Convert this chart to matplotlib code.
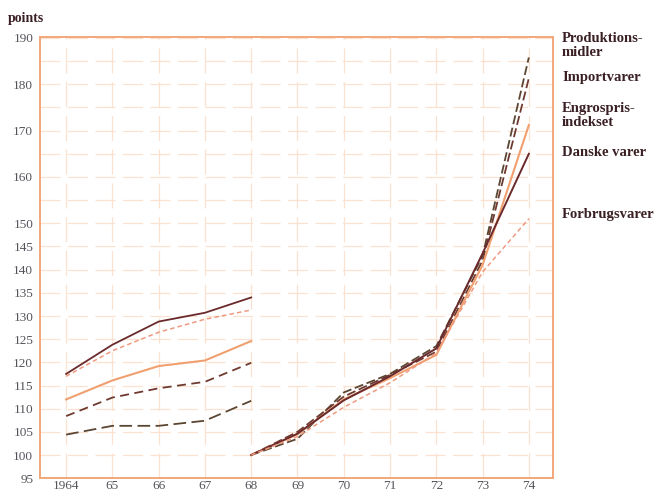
import matplotlib.pyplot as plt
import numpy as np

# 1964-1968 (old base)
years_a = [1964, 1965, 1966, 1967, 1968]
danske_a = [117.5, 123.8, 128.8, 130.7, 134.0]
forbrug_a = [117.0, 122.5, 126.5, 129.3, 131.3]
engros_a = [112.0, 116.1, 119.2, 120.4, 124.6]
import_a = [108.4, 112.4, 114.4, 115.8, 119.9]
prod_a = [104.4, 106.3, 106.3, 107.4, 111.7]

# 1968-1974 (1968 = 100)
years_b = [1968, 1969, 1970, 1971, 1972, 1973, 1974]
prod_b = [100, 103.5, 113.5, 117.5, 123.5, 143.0, 185.8]
import_b = [100, 105.0, 112.6, 117.3, 122.3, 142.0, 181.3]
engros_b = [100, 104.5, 112.0, 116.6, 121.6, 141.0, 171.2]
danske_b = [100, 104.6, 111.8, 117.0, 123.0, 143.5, 165.0]
forbrug_b = [100, 104.0, 110.3, 115.6, 122.0, 139.5, 151.0]

labels = ["Produktions-\nmidler", "Importvarer", "Engrospris-\nindekset", "Danske varer", "Forbrugsvarer"]
label_y = [188.3, 181.4, 173.3, 165.2, 152.0]

yticks = [95, 100, 105, 110, 115, 120, 125, 130, 135, 140, 145, 150, 160, 170, 180, 190]
xticks = list(range(1964, 1975))
xlabels = ["1964", "65", "66", "67", "68", "69", "70", "71", "72", "73", "74"]

c_prod = "#5a4632"
c_import = "#6e3a30"
c_engros = "#f0a070"
c_danske = "#6a2a2c"
c_forbrug = "#ee9a80"
grid_c = "#fbe2d0"
frame_c = "#f2a77a"
txt_c = "#3a2024"
tick_c = "#55535a"

fig = plt.figure(figsize=(6.59, 4.94), dpi=100)
ax = fig.add_axes([0.061, 0.032, 0.778, 0.893])

for y in range(95, 191, 5):
    ax.axhline(y, color=grid_c, lw=0.9, ls=(0, (16, 6)), zorder=0)
for x in xticks:
    ax.axvline(x, color=grid_c, lw=0.9, ls=(0, (20, 7)), zorder=0)

# old series
ax.plot(years_a, danske_a, color=c_danske, lw=1.3)
ax.plot(years_a, forbrug_a, color=c_forbrug, lw=1.1, ls=(0, (3, 2)))
ax.plot(years_a, engros_a, color=c_engros, lw=1.5)
ax.plot(years_a, import_a, color=c_import, lw=1.3, ls=(0, (5, 3)))
ax.plot(years_a, prod_a, color=c_prod, lw=1.3, ls=(0, (7, 3)))

# new series
ax.plot(years_b, prod_b, color=c_prod, lw=1.3, ls=(0, (5, 2)))
ax.plot(years_b, import_b, color=c_import, lw=1.3, ls=(0, (5, 2)))
ax.plot(years_b, engros_b, color=c_engros, lw=1.5)
ax.plot(years_b, danske_b, color=c_danske, lw=1.4)
ax.plot(years_b, forbrug_b, color=c_forbrug, lw=1.1, ls=(0, (3, 2)))

ax.set_xlim(1963.44, 1974.52)
ax.set_ylim(95, 190.2)
ax.set_yticks(yticks)
ax.set_yticklabels([str(v) for v in yticks])
ax.set_xticks(xticks)
ax.set_xticklabels(xlabels)
ax.tick_params(length=0, labelsize=9.5, labelcolor=tick_c)
ax.tick_params(axis="x", pad=1.5)
ax.tick_params(axis="y", pad=5)
for lab in ax.get_xticklabels() + ax.get_yticklabels():
    lab.set_family("Liberation Serif")
for s in ax.spines.values():
    s.set_color(frame_c)
    s.set_linewidth(1.4)

for lab, y in zip(labels, label_y):
    ax.text(1974.72, y, lab, ha="left", va="center", fontsize=10.5, fontweight="bold",
            family="Liberation Serif", color=txt_c, linespacing=1.1, clip_on=False)

fig.text(0.012, 0.962, "points", fontsize=10, fontweight="bold", family="Liberation Serif",
         color=txt_c, ha="left", va="center")

fig.savefig("out.png", dpi=100, facecolor="white")
